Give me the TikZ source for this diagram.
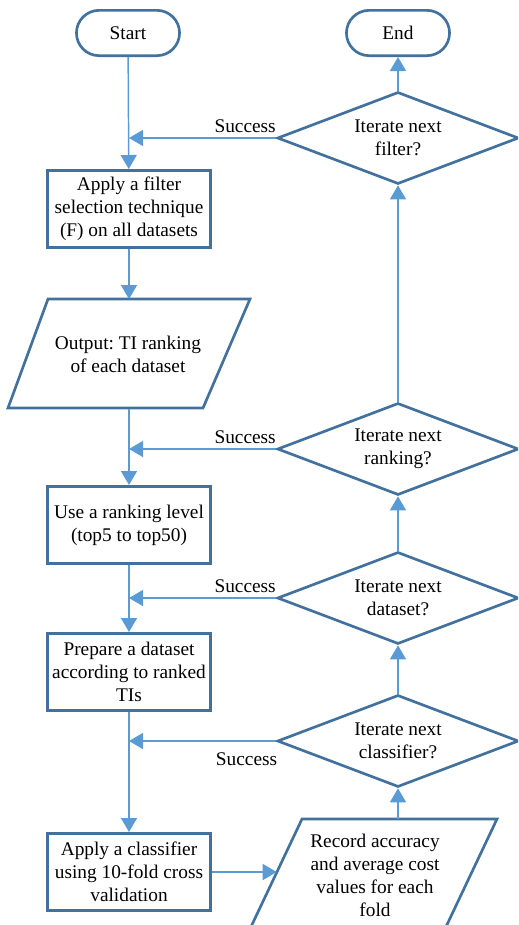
\documentclass[tikz,border=0pt]{standalone}
\usepackage{fontspec}
\setmainfont{Liberation Serif}
\usetikzlibrary{shapes.geometric,shapes.misc,arrows.meta}
\definecolor{outline}{HTML}{41719C}
\definecolor{connector}{HTML}{5B9BD5}
\frenchspacing

\begin{document}
\begin{tikzpicture}[x=0.75pt,y=-0.75pt,
    font=\fontsize{14.5}{17.3}\selectfont,
    every node/.style={align=center, text=black},
    shapebox/.style={draw=outline, line width=2pt, line join=miter},
    terminal/.style={shapebox, rounded rectangle, minimum width=84pt, minimum height=34pt},
    process/.style={shapebox, rectangle, minimum width=122pt, minimum height=58pt},
    decision/.style={shapebox, diamond, aspect=2.6, minimum width=181pt, minimum height=69pt, inner sep=0pt},
    iobox/.style={rectangle, inner sep=0pt},
    arr/.style={draw=connector, line width=1.1pt, -{Triangle[length=10.5pt,width=12pt]}}]
            \clip (0,0) rectangle (518,925);
            % left column
            \node[terminal] (start) at (128,33) {Start};
            \node[process] (flt) at (129,209) {Apply a filter\\selection technique\\(F) on all datasets};
            \node[iobox, minimum width=150pt, minimum height=82pt] (out) at (128,354) {Output: TI ranking\\of each dataset};
            \draw[shapebox] (8,408) -- (48,299) -- (250,299) -- (203,408) -- cycle;
            \node[process] (lvl) at (129,525) {Use a ranking level\\(top5 to top50)};
            \node[process] (prep) at (129,672) {Prepare a dataset\\according to ranked\\TIs};
            \node[process] (cls) at (129,872) {Apply a classifier\\using 10-fold cross\\validation};
            % right column
            \node[terminal] (end) at (398,33) {End};
            \node[decision] (d1) at (398,138) {Iterate next\\filter?};
            \node[decision] (d2) at (398,449) {Iterate next\\ranking?};
            \node[decision] (d3) at (398,598) {Iterate next\\dataset?};
            \node[decision] (d4) at (398,741) {Iterate next\\classifier?};
            \node[iobox, minimum width=147pt, minimum height=84pt] (rec) at (375,875)
                {Record accuracy\\and average cost\\values for each\\fold};
            \draw[shapebox] (302,819) -- (497,819) -- (444,931) -- (249,931) -- cycle;
            % connectors
            \draw[arr] (start) -- (flt);
            \draw[arr] (flt) -- (flt |- out.north);
            \draw[arr] (out.south -| lvl.north) -- (lvl.north);
            \draw[arr] (lvl) -- (prep);
            \draw[arr] (prep) -- (cls);
            \draw[arr] (cls.east) -- (cls.east -| rec.west);
            \draw[arr] (rec.north -| d4.south) -- (d4.south);
            \draw[arr] (d4.north) -- (d3.south);
            \draw[arr] (d3.north) -- (d2.south);
            \draw[arr] (d2.north) -- (d1.south);
            \draw[arr] (d1.north) -- (end.south);
            \draw[arr] (d1.west) -- (d1.west -| flt.north) node[pos=0.21, above] {Success};
            \draw[arr] (d2.west) -- (d2.west -| lvl.north) node[pos=0.21, above] {Success};
            \draw[arr] (d3.west) -- (d3.west -| prep.north) node[pos=0.21, above] {Success};
            \draw[arr] (d4.west) -- (d4.west -| cls.north) node[pos=0.2, below=5pt] {Success};
        \end{tikzpicture}
\end{document}
